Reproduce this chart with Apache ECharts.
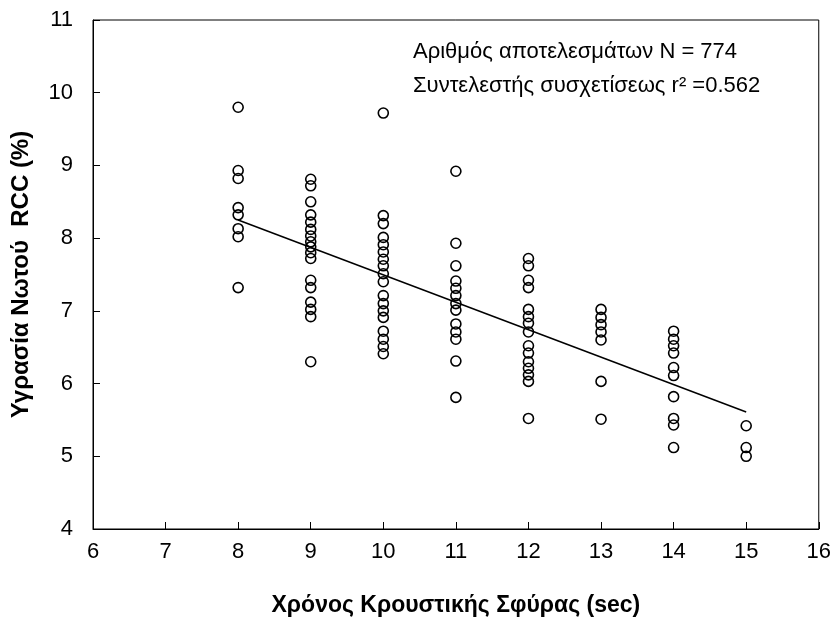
<!DOCTYPE html>
<html>
<head>
<meta charset="utf-8">
<script src="https://cdn.jsdelivr.net/npm/echarts@6/dist/echarts.min.js"></script>
<style>
html,body{margin:0;padding:0;background:#fff;}
#c{width:834px;height:626px;}
</style>
</head>
<body>
<div id="c"></div>
<script>
// Data: x = hammer time (sec), y = moisture (%)
const col8 = [9.80, 8.93, 8.82, 8.42, 8.32, 8.13, 8.02, 7.32];
const col9 = [8.81, 8.72, 8.50, 8.32, 8.22, 8.12, 8.03, 7.95, 7.88, 7.80, 7.72, 7.42, 7.32, 7.12, 7.02, 6.92, 6.30];
const col10 = [9.72, 8.31, 8.20, 8.01, 7.91, 7.81, 7.71, 7.62, 7.51, 7.40, 7.21, 7.10, 7.00, 6.91, 6.72, 6.61, 6.51, 6.41];
const col11 = [8.92, 7.93, 7.62, 7.41, 7.31, 7.21, 7.10, 7.01, 6.82, 6.71, 6.61, 6.31, 5.81];
const col12 = [7.72, 7.62, 7.42, 7.32, 7.02, 6.92, 6.83, 6.71, 6.52, 6.42, 6.30, 6.21, 6.12, 6.03, 5.52];
const col13 = [7.02, 6.91, 6.81, 6.71, 6.60, 6.03, 5.51];
const col14 = [6.72, 6.61, 6.52, 6.42, 6.22, 6.11, 5.82, 5.52, 5.43, 5.12];
const col15 = [5.42, 5.12, 5.00];
const xCategories = [8, 9, 10, 11, 12, 13, 14, 15];
const columns = [col8, col9, col10, col11, col12, col13, col14, col15];
const fitX = [8, 15];
const fitY = [8.25, 5.61];
const noteLines = ['Αριθμός αποτελεσμάτων N = 774', 'Συντελεστής συσχετίσεως r² =0.562'];
const xTitle = 'Χρόνος Κρουστικής Σφύρας (sec)';
const yTitle = 'Υγρασία Νωτού  RCC (%)';

const points = [];
columns.forEach((col, i) => col.forEach(v => points.push([xCategories[i], v])));
const fitLine = fitX.map((x, i) => [x, fitY[i]]);

const font = '"Liberation Sans", Arial, sans-serif';
const chart = echarts.init(document.getElementById('c'));
chart.setOption({
  animation: false,
  backgroundColor: '#fff',
  grid: {left: 93, right: 14, top: 20, bottom: 97, show: true, borderColor: '#000', borderWidth: 1, backgroundColor: 'transparent'},
  xAxis: {
    type: 'value', min: 6, max: 16, interval: 1,
    axisLine: {show: true, onZero: false, lineStyle: {color: '#000', width: 1}},
    axisTick: {show: true, inside: true, length: 7, lineStyle: {color: '#000'}},
    axisLabel: {color: '#000', fontSize: 22, fontFamily: font, margin: 12},
    splitLine: {show: false},
    name: xTitle, nameLocation: 'middle', nameGap: 65,
    nameTextStyle: {color: '#000', fontSize: 23, fontWeight: 'bold', fontFamily: font}
  },
  yAxis: {
    type: 'value', min: 4, max: 11, interval: 1,
    axisLine: {show: true, onZero: false, lineStyle: {color: '#000', width: 1}},
    axisTick: {show: true, inside: true, length: 7, lineStyle: {color: '#000'}},
    axisLabel: {color: '#000', fontSize: 22, fontFamily: font, margin: 20},
    splitLine: {show: false},
    name: yTitle, nameLocation: 'middle', nameGap: 60,
    nameTextStyle: {color: '#000', fontSize: 24, fontWeight: 'bold', fontFamily: font}
  },
  graphic: noteLines.map((t, i) => ({
    type: 'text', left: 413, top: 41 + i * 34,
    style: {text: t, fill: '#000', fontSize: 22, fontFamily: font}
  })),
  series: [
    {
      type: 'scatter', data: points, symbol: 'circle', symbolSize: 10,
      itemStyle: {color: 'rgba(255,255,255,0)', borderColor: '#000', borderWidth: 1.6, opacity: 1},
      z: 3
    },
    {
      type: 'line', data: fitLine, showSymbol: false, symbol: 'none',
      lineStyle: {color: '#000', width: 1.5}, z: 2
    }
  ]
});
</script>
</body>
</html>
